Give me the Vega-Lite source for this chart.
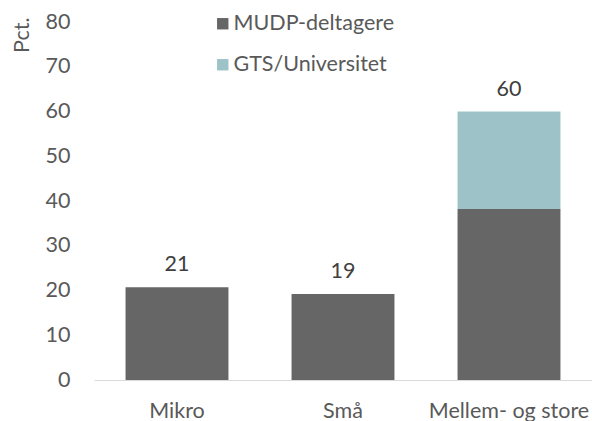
{
  "$schema": "https://vega.github.io/schema/vega-lite/v6.json",
  "width": 498,
  "height": 358,
  "autosize": {"type": "none"},
  "padding": {"left": 94, "top": 22, "right": 0, "bottom": 41},
  "background": "white",
  "config": {
    "view": {"stroke": null},
    "font": "Lato",
    "axis": {"labelFont": "Lato", "labelFontSize": 21.5, "labelColor": "#595959", "titleFont": "Lato", "titleColor": "#595959", "titleFontWeight": "normal"},
    "legend": {"labelFont": "Lato", "labelFontSize": 21.5, "labelColor": "#595959"}
  },
  "data": {
    "values": [
      {"kategori": "Mikro", "gruppe": "MUDP-deltagere", "pct": 20.7},
      {"kategori": "Små", "gruppe": "MUDP-deltagere", "pct": 19.2},
      {"kategori": "Mellem- og store", "gruppe": "MUDP-deltagere", "pct": 38.2},
      {"kategori": "Mellem- og store", "gruppe": "GTS/Universitet", "pct": 21.8}
    ]
  },
  "layer": [
    {
      "mark": {"type": "bar"},
      "encoding": {
        "x": {
          "field": "kategori", "type": "nominal", "sort": ["Mikro", "Små", "Mellem- og store"],
          "scale": {"paddingInner": 0.38, "paddingOuter": 0.19},
          "axis": {"title": null, "labelAngle": 0, "ticks": false, "domainColor": "#d9d9d9", "domainWidth": 1.2, "labelPadding": 20, "labelBaseline": "top", "labelLimit": 400}
        },
        "y": {
          "field": "pct", "type": "quantitative", "stack": "zero",
          "scale": {"domain": [0, 80]},
          "axis": {"values": [0, 10, 20, 30, 40, 50, 60, 70, 80], "grid": false, "domain": false, "ticks": false, "labelPadding": 24,
                   "title": "Pct.", "titleAngle": -90, "titleX": -72, "titleY": -5, "titleAlign": "right", "titleBaseline": "middle", "titleFontSize": 21.5}
        },
        "color": {
          "field": "gruppe", "type": "nominal",
          "scale": {"domain": ["MUDP-deltagere", "GTS/Universitet"], "range": ["#666666", "#9dc3c8"]},
          "legend": {"title": null, "orient": "none", "legendX": 118, "legendY": -9, "padding": 0,
                     "symbolType": "square", "symbolSize": 130, "symbolStrokeWidth": 0, "symbolOpacity": 1,
                     "labelOffset": 0, "rowPadding": 18, "labelLimit": 400}
        },
        "order": {"field": "gruppe", "sort": "descending"}
      }
    },
    {
      "transform": [{"aggregate": [{"op": "sum", "field": "pct", "as": "total"}], "groupby": ["kategori"]}],
      "mark": {"type": "text", "baseline": "alphabetic", "dy": -16, "fontSize": 21.5, "color": "#404040", "font": "Lato"},
      "encoding": {
        "x": {"field": "kategori", "type": "nominal", "sort": ["Mikro", "Små", "Mellem- og store"]},
        "y": {"field": "total", "type": "quantitative"},
        "text": {"field": "total", "type": "quantitative", "format": ".0f"}
      }
    }
  ]
}
